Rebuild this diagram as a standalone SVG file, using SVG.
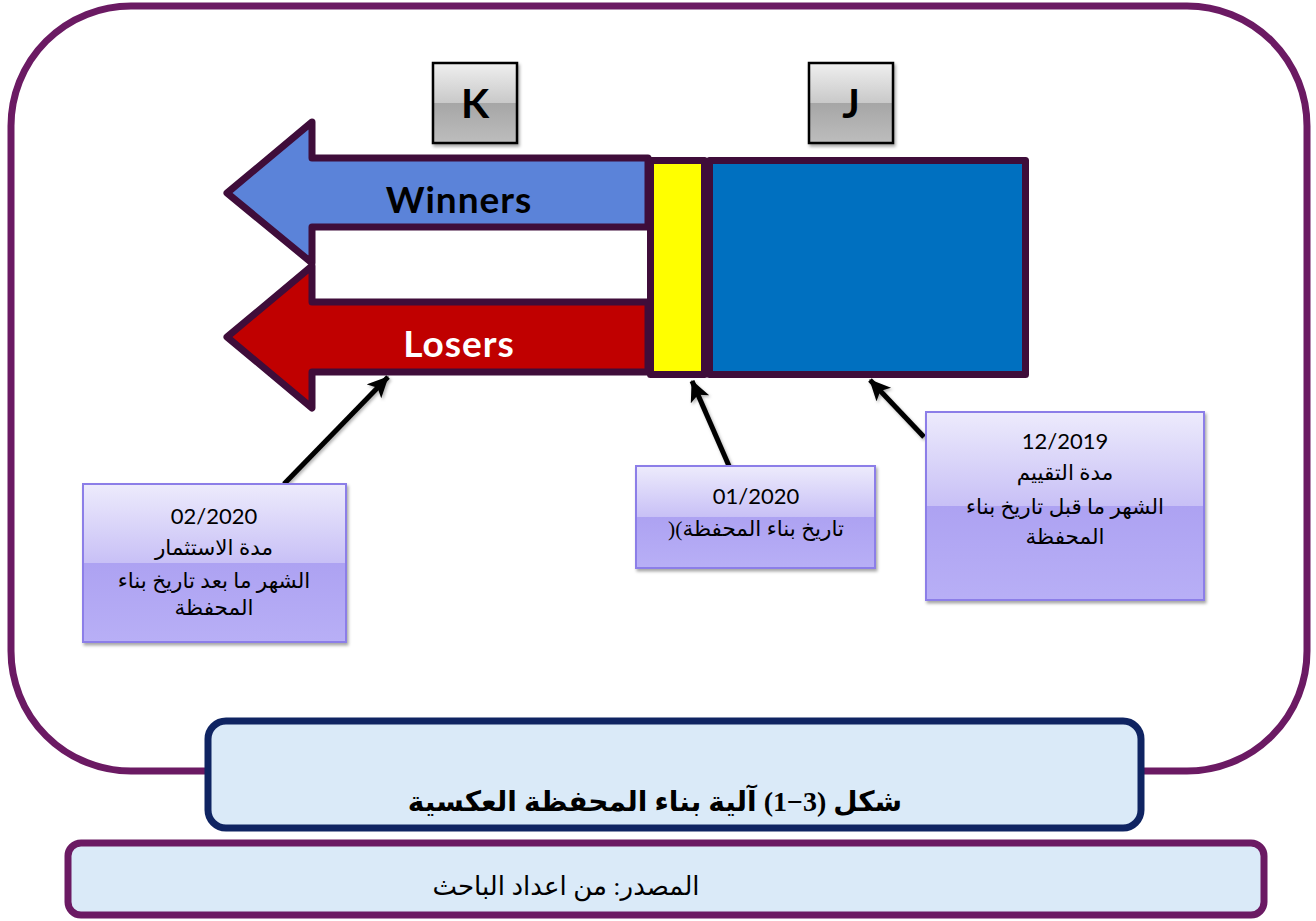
<svg xmlns="http://www.w3.org/2000/svg" width="1316" height="921" viewBox="0 0 1316 921">
<defs>
<style>
.lat{font-family:Lato,"Open Sans","Liberation Sans",sans-serif}
.ar{font-family:"Liberation Serif","DejaVu Sans","Noto Sans",serif;font-size:21.5px;fill:#000}
.date{font-family:Lato,"Liberation Sans",sans-serif;font-size:22px;fill:#000}
.lav{fill:url(#gLav);stroke:#8C7EE8;stroke-width:2;filter:url(#sh)}
.gray{fill:url(#gGray);stroke:#000;stroke-width:2.5;filter:url(#sh)}
.outl{stroke:#3F0D3A;stroke-width:7;stroke-linejoin:round}
.conn{stroke:#000;stroke-width:5;fill:none;marker-end:url(#ah);filter:url(#sh2)}
</style>
<linearGradient id="gLav" x1="0" y1="0" x2="0" y2="1">
<stop offset="0" stop-color="#EDEBFC"/>
<stop offset="0.5" stop-color="#C8C0F6"/>
<stop offset="0.5" stop-color="#ADA2F2"/>
<stop offset="1" stop-color="#B8AFF6"/>
</linearGradient>
<linearGradient id="gGray" x1="0" y1="0" x2="0" y2="1">
<stop offset="0" stop-color="#EFEFEF"/>
<stop offset="0.5" stop-color="#C9C9C9"/>
<stop offset="0.5" stop-color="#A6A6A6"/>
<stop offset="1" stop-color="#BDBDBD"/>
</linearGradient>
<filter id="sh" x="-10%" y="-10%" width="130%" height="130%">
<feDropShadow dx="1.5" dy="2.5" stdDeviation="1.8" flood-color="#000" flood-opacity="0.35"/>
</filter>
<filter id="sh2" x="-20%" y="-20%" width="140%" height="140%">
<feDropShadow dx="1.5" dy="2" stdDeviation="1.5" flood-color="#000" flood-opacity="0.3"/>
</filter>
<marker id="ah" markerUnits="userSpaceOnUse" markerWidth="24" markerHeight="22" refX="20" refY="10" orient="auto">
<path d="M0,0 L21,10 L0,20 L5,10 z" fill="#000"/>
</marker>
</defs>

<rect id="frame" x="11" y="6" width="1296" height="765" rx="120" ry="120" fill="#fff" stroke="#6B1A63" stroke-width="7"/>

<g id="box-K">
<rect class="gray" x="433" y="63" width="84" height="80"/>
<text class="lat" x="475" y="118" font-size="41" font-weight="bold" text-anchor="middle">K</text>
</g>
<g id="box-J">
<rect class="gray" x="809" y="63" width="84" height="80"/>
<text class="lat" x="851" y="118" font-size="41" font-weight="bold" text-anchor="middle">J</text>
</g>

<g id="winners">
<path class="outl" d="M648,158 L312,158 L312,122 L227,193 L312,263 L312,227 L648,227 Z" fill="#5B83D9"/>
<text class="lat" x="459" y="213" font-size="37" font-weight="bold" letter-spacing="1" text-anchor="middle" fill="#000">Winners</text>
</g>
<g id="losers">
<path class="outl" d="M648,302 L312,302 L312,266 L227,337 L312,408 L312,372 L648,372 Z" fill="#C00000"/>
<text class="lat" x="459" y="357" font-size="37" font-weight="bold" letter-spacing="1" text-anchor="middle" fill="#fff">Losers</text>
</g>
<g id="current">
<rect x="650.5" y="160.5" width="54" height="214" fill="#FFFF00" stroke="#3F0D3A" stroke-width="7" stroke-linejoin="round"/>
</g>
<g id="formation">
<rect x="709.5" y="160.5" width="316" height="214" fill="#0070C0" stroke="#3F0D3A" stroke-width="7" stroke-linejoin="round"/>
</g>

<g id="connectors">
<line class="conn" x1="284" y1="484" x2="388" y2="377"/>
<line class="conn" x1="729" y1="466" x2="692" y2="381"/>
<line class="conn" x1="924" y1="437" x2="870" y2="380"/>
</g>

<g id="note-invest">
<rect class="lav" x="83" y="484" width="263" height="158"/>
<text class="date" x="214" y="524" text-anchor="middle">02/2020</text>
<text class="ar" x="214" y="555" text-anchor="middle" direction="rtl">مدة الاستثمار</text>
<text class="ar" x="214" y="588" text-anchor="middle" direction="rtl">الشهر ما بعد تاريخ بناء</text>
<text class="ar" x="214" y="615" text-anchor="middle" direction="rtl">المحفظة</text>
</g>
<g id="note-build">
<rect class="lav" x="636" y="466" width="239" height="102"/>
<text class="date" x="756" y="504" text-anchor="middle">01/2020</text>
<text class="ar" x="756" y="536" text-anchor="middle" direction="rtl">تاريخ بناء المحفظة)(</text>
</g>
<g id="note-eval">
<rect class="lav" x="926" y="412" width="278" height="188"/>
<text class="date" x="1065" y="449" text-anchor="middle">12/2019</text>
<text class="ar" x="1065" y="480" text-anchor="middle" direction="rtl">مدة التقييم</text>
<text class="ar" x="1065" y="514" text-anchor="middle" direction="rtl">الشهر ما قبل تاريخ بناء</text>
<text class="ar" x="1065" y="544" text-anchor="middle" direction="rtl">المحفظة</text>
</g>

<g id="title">
<rect x="208" y="721" width="933" height="107" rx="18" ry="18" fill="#DAEAF8" stroke="#0F2462" stroke-width="7"/>
<text x="655" y="811" font-family="'Liberation Serif','DejaVu Sans',serif" font-size="28" font-weight="bold" text-anchor="middle" direction="rtl" fill="#000">شكل (3−1) آلية بناء المحفظة العكسية</text>
</g>
<g id="source">
<rect x="68" y="843" width="1196" height="72" rx="13" ry="13" fill="#DAEAF8" stroke="#6B1A63" stroke-width="7"/>
<text x="566" y="895" font-family="'Liberation Serif','DejaVu Sans',serif" font-size="26" text-anchor="middle" direction="rtl" fill="#000">المصدر: من اعداد الباحث</text>
</g>
</svg>
